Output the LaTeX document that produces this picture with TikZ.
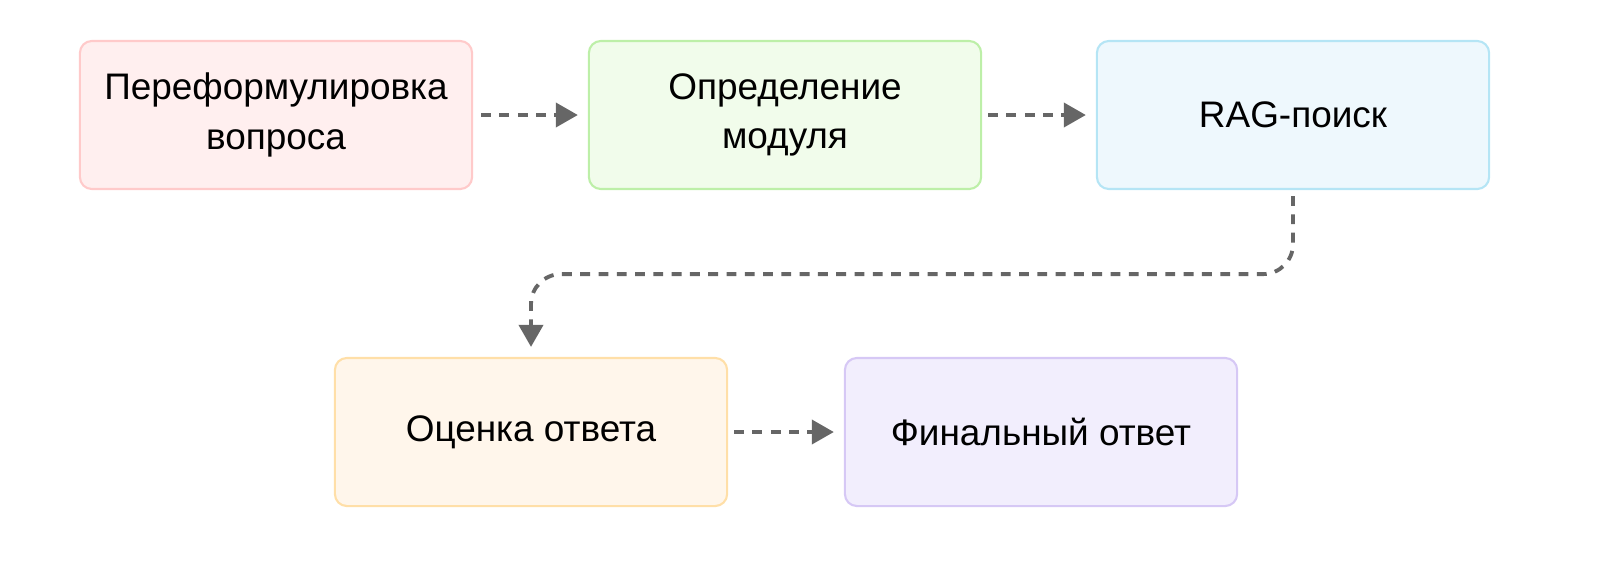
\documentclass[tikz,border=0pt]{standalone}
\usepackage{fontspec}
\setmainfont{Liberation Sans}
\usetikzlibrary{arrows.meta, positioning}
\definecolor{arrowgray}{HTML}{666666}
\definecolor{reformfill}{HTML}{FFEFEF}\definecolor{reformline}{HTML}{FFCACA}
\definecolor{modulefill}{HTML}{F1FCEB}\definecolor{moduleline}{HTML}{BDEFA8}
\definecolor{ragfill}{HTML}{EEF8FD}\definecolor{ragline}{HTML}{B5E5F5}
\definecolor{checkfill}{HTML}{FFF6EB}\definecolor{checkline}{HTML}{FFDFA8}
\definecolor{finalfill}{HTML}{F2EEFD}\definecolor{finalline}{HTML}{D6C8F5}

\begin{document}
\begin{tikzpicture}[
    x=0.01cm, y=-0.01cm,
    box/.style={rectangle, draw, rounded corners=0.12cm, line width=0.6pt, minimum width=3.92cm, minimum height=1.48cm, align=center, font=\fontsize{10.5}{14}\selectfont},
    arrow/.style={-{Triangle[length=2.2mm, width=2.4mm]}, line width=1.1pt, draw=arrowgray, dash pattern=on 2.8pt off 2.4pt}
]
    \useasboundingbox (0,0) rectangle (1600,560);
    \node[box, fill=reformfill, draw=reformline] at (276,115) (reform) {Переформулировка\\вопроса};
    \node[box, fill=modulefill, draw=moduleline] at (785,115) (module) {Определение\\модуля};
    \node[box, fill=ragfill, draw=ragline] at (1293,115) (rag) {RAG-поиск};
    \node[box, fill=checkfill, draw=checkline] at (531,432) (check) {Оценка ответа};
    \node[box, fill=finalfill, draw=finalline] at (1041,432) (final) {Финальный ответ};

    \draw[arrow] ([xshift=0.08cm]reform.east) -- ([xshift=-0.1cm]module.west);
    \draw[arrow] ([xshift=0.06cm]module.east) -- ([xshift=-0.1cm]rag.west);
    \draw[arrow, rounded corners=0.3cm] ([yshift=-0.06cm]rag.south) -- ++(0,78) -| ([yshift=0.1cm]check.north);
    \draw[arrow] ([xshift=0.06cm]check.east) -- ([xshift=-0.1cm]final.west);
\end{tikzpicture}
\end{document}
